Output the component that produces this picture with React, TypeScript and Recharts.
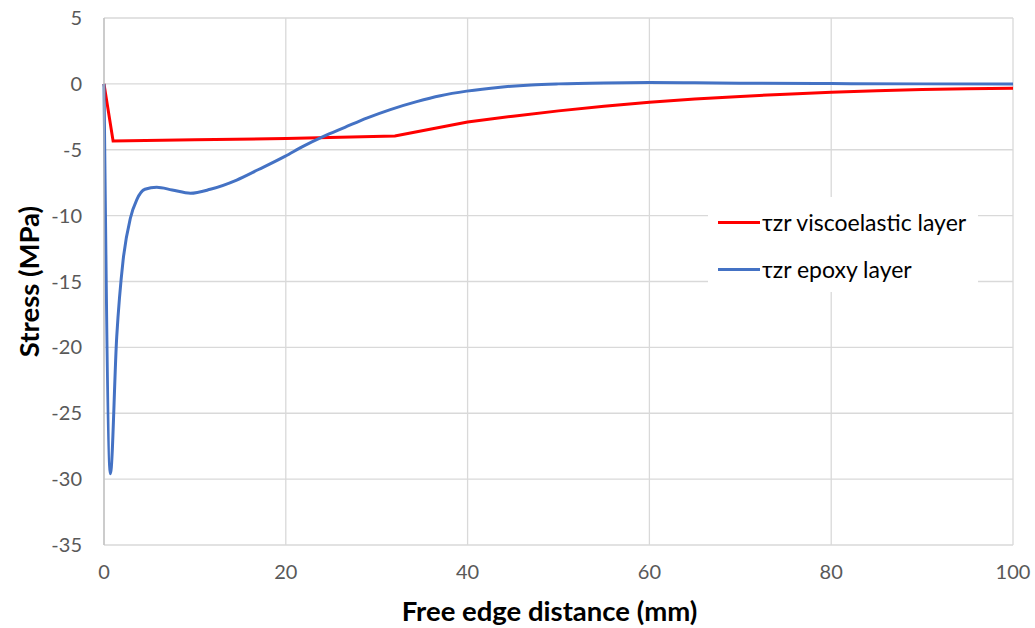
import { LineChart, Line, XAxis, YAxis, CartesianGrid, Legend } from "recharts";

// shear stress along the free edge, read per layer
const viscoDistance = [0, 1, 10, 20, 32, 36, 40, 45, 50, 55, 60, 65, 70, 75, 80, 85, 90, 95, 100];
const viscoStress = [0, -4.33, -4.25, -4.15, -3.95, -3.42, -2.9, -2.45, -2.05, -1.7, -1.4, -1.15, -0.95, -0.78, -0.63, -0.52, -0.43, -0.37, -0.33];

const epoxyDistance = [
  0, 0.7, 1.4, 2.1, 2.9, 3.6, 4.5, 5.8, 7.5, 9.5, 11.7, 14.6, 17, 19.9, 22, 24.1, 26.5, 28.9, 31.5, 34.4,
  37, 39.9, 43.6, 47, 50, 55, 60, 65, 70, 80, 90, 100,
];
const epoxyStress = [
  0, -29.6, -19.2, -13.4, -10.2, -8.8, -8.0, -7.85, -8.05, -8.3, -8.0, -7.3, -6.5, -5.5, -4.7, -4.0, -3.3, -2.6, -1.95, -1.35,
  -0.9, -0.55, -0.25, -0.08, 0.0, 0.07, 0.1, 0.08, 0.05, 0.02, 0.0, 0.0,
];

const xTicks = [0, 20, 40, 60, 80, 100];
const yTicks = [5, 0, -5, -10, -15, -20, -25, -30, -35];

const series = [
  { name: "τzr viscoelastic layer", color: "#FF0000" },
  { name: "τzr epoxy layer", color: "#4472C4" },
];

const viscoData = viscoDistance.map((x, i) => ({ x, y: viscoStress[i] }));
const epoxyData = epoxyDistance.map((x, i) => ({ x, y: epoxyStress[i] }));

const FONT = "Lato, 'Open Sans', sans-serif";

// legend sits inside the plot on a white box, so it must not take layout space
function LegendBox() {
  return (
    <div
      style={{
        position: "absolute",
        left: 0,
        top: 0,
        background: "#fff",
        width: 270,
        height: 95,
        fontFamily: FONT,
        fontSize: 23,
        color: "#000",
        boxSizing: "border-box",
        paddingTop: 6,
        paddingLeft: 10,
      }}
    >
      {series.map((s) => (
        <div key={s.name} style={{ display: "flex", alignItems: "center", height: 38, marginBottom: 9, whiteSpace: "nowrap" }}>
          <span style={{ display: "inline-block", width: 42, height: 3, background: s.color, marginRight: 2 }} />
          <span>{s.name}</span>
        </div>
      ))}
    </div>
  );
}

export default function App() {
  return (
    <div style={{ position: "absolute", left: 0, top: 0, background: "#fff" }}>
      <LineChart width={1035} height={628} margin={{ top: 18, right: 22, bottom: 0, left: 0 }}>
        <CartesianGrid stroke="#D9D9D9" strokeWidth={1.3} />
        <XAxis
          type="number"
          dataKey="x"
          domain={[0, 100]}
          ticks={xTicks}
          height={83}
          axisLine={false}
          tickLine={false}
          tickSize={0}
          tickMargin={20}
          tick={{ fill: "#595959", fontSize: 20, fontFamily: FONT }}
          label={{
            value: "Free edge distance (mm)",
            position: "insideBottom",
            offset: 7,
            dx: -9,
            fill: "#000",
            fontSize: 27.5,
            fontWeight: 700,
            fontFamily: FONT,
          }}
        />
        <YAxis
          type="number"
          domain={[-35, 5]}
          ticks={yTicks}
          width={104}
          axisLine={{ stroke: "#BFBFBF", strokeWidth: 1.3 }}
          tickLine={false}
          tickSize={0}
          tickMargin={22}
          tick={{ fill: "#595959", fontSize: 20, fontFamily: FONT }}
          label={{
            value: "Stress (MPa)",
            angle: -90,
            position: "center",
            dx: -23,
            fill: "#000",
            fontSize: 27.5,
            fontWeight: 700,
            fontFamily: FONT,
          }}
        />
        <Legend
          content={<LegendBox />}
          wrapperStyle={{ position: "absolute", left: 708, top: 197, width: 0, height: 0, overflow: "visible" }}
        />
        <Line
          data={viscoData}
          dataKey="y"
          name={series[0].name}
          type="linear"
          stroke={series[0].color}
          strokeWidth={3}
          dot={false}
          isAnimationActive={false}
        />
        <Line
          data={epoxyData}
          dataKey="y"
          name={series[1].name}
          type="monotone"
          stroke={series[1].color}
          strokeWidth={3}
          dot={false}
          isAnimationActive={false}
        />
      </LineChart>
    </div>
  );
}
